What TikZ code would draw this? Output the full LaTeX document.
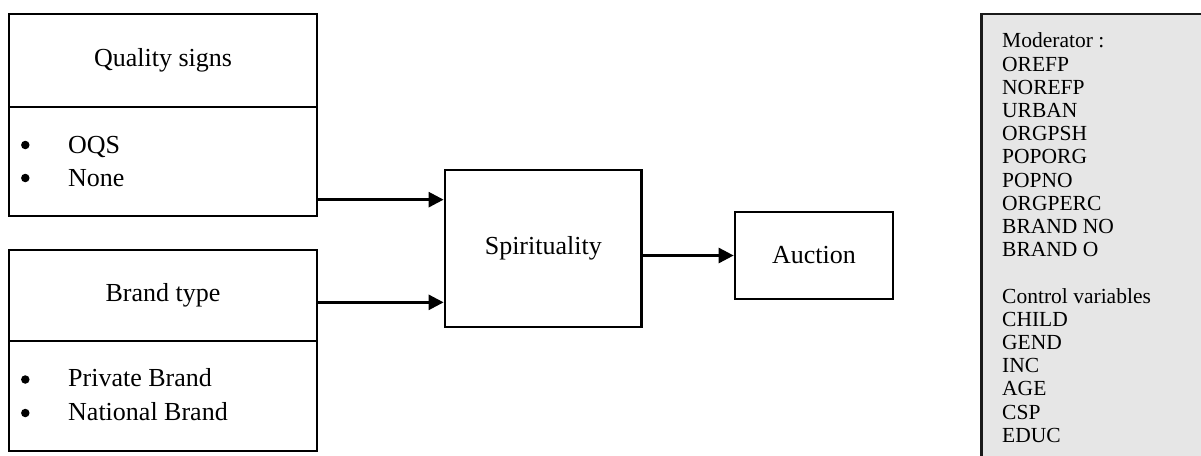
\documentclass[tikz,border=0pt]{standalone}
\usepackage{fontspec}
\setmainfont{Liberation Serif}
\usetikzlibrary{arrows.meta,calc}
\definecolor{modfill}{HTML}{E6E6E6}
\definecolor{modline}{HTML}{1A1A1A}
\begin{document}
\begin{tikzpicture}[x=1pt,y=-1pt,
  box/.style={draw, line width=2.7pt, inner sep=0pt},
  title/.style={font=\fontsize{26}{28}\selectfont},
  item/.style={font=\fontsize{26}{28}\selectfont, anchor=base west, inner sep=0pt},
  bul/.style={circle, fill=black, inner sep=0pt, minimum size=8.5pt},
  arr/.style={line width=2.7pt, -{Triangle[length=15pt,width=15pt]}},
  modtxt/.style={font=\fontsize{21.5}{23.2}\selectfont, align=left, anchor=north west, inner sep=0pt}
]
\useasboundingbox (0,0) rectangle (1201,455);
% left boxes
\node[box, title, minimum width=308pt, minimum height=93pt] (qs) at (163,60.5) {Quality signs};
\node[box, minimum width=308pt, minimum height=109pt] (qsl) at (163,161.5) {};
\node[box, title, minimum width=308pt, minimum height=91pt] (bt) at (163,295.5) {Brand type};
\node[box, minimum width=308pt, minimum height=110pt] (btl) at (163,396) {};
% list items
\node[bul] (b1) at (25.3,145) {};
\node[item] (i1) at (68,153.5) {OQS};
\node[bul] (b2) at (25.3,178) {};
\node[item] (i2) at (68,186.5) {None};
\node[bul] (b3) at (25.3,379.5) {};
\node[item] (i3) at (68,386.5) {Private Brand};
\node[bul] (b4) at (25.3,413) {};
\node[item] (i4) at (68,420.5) {National Brand};
% middle boxes
\node[box, title, minimum width=196.7pt, minimum height=157pt] (sp) at (543.3,248.5) {Spirituality};
\node[box, title, minimum width=158pt, minimum height=87pt] (au) at (814,255.5) {Auction};
% connectors
\coordinate (in1) at ($(sp.north west)+(0,31)$);
\coordinate (in2) at ($(sp.south west)+(0,-26)$);
\draw[arr] (qsl.east |- in1) -- (in1);
\draw[arr] (bt.east |- in2) -- (in2);
\draw[arr] (sp.east |- au.west) -- (au.west);
% moderator box
\node[draw=modline, fill=modfill, line width=2.7pt, anchor=north west, minimum width=240pt, minimum height=460pt, inner sep=0pt] (mod) at (980,12.7) {};
\node[modtxt] (modt) at (1002,32.8) {Moderator :\\ OREFP\\ NOREFP\\ URBAN\\ ORGPSH\\ POPORG\\ POPNO\\ ORGPERC\\ BRAND NO\\ BRAND O\\[23.2pt] Control variables\\ CHILD\\ GEND\\ INC\\ AGE\\ CSP\\ EDUC};
\end{tikzpicture}
\end{document}
